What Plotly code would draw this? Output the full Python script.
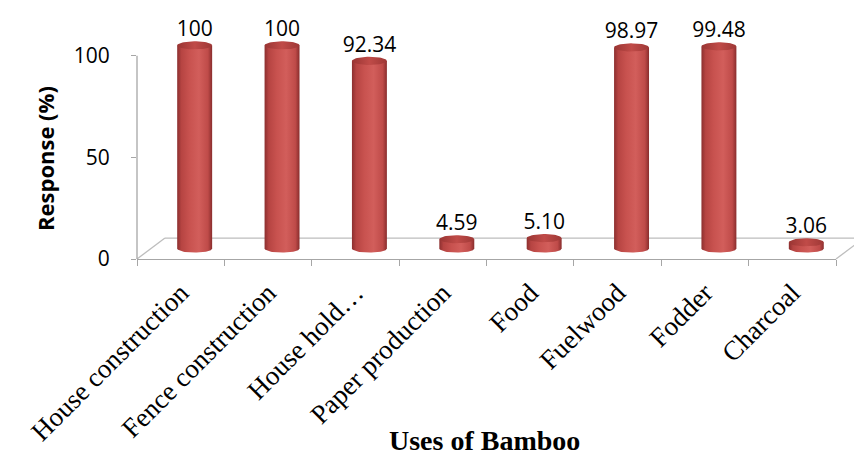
import numpy as np
import plotly.graph_objects as go

# Uses of bamboo and share of respondents (%)
categories = ["House construction", "Fence construction", "House hold\u2026",
              "Paper production", "Food", "Fuelwood", "Fodder", "Charcoal"]
response = [100, 100, 92.34, 4.59, 5.10, 98.97, 99.48, 3.06]
labels = ["100", "100", "92.34", "4.59", "5.10", "98.97", "99.48", "3.06"]
y_ticks = [0, 50, 100]

# axis ranges and pseudo-3D geometry (data units)
XR = [-0.5, 7.5]
YR = [0, 125]
DEPTH_X, DEPTH_Y = 0.32, 10.3      # floor depth offset
RX, RY = 0.2, 2.0                  # cylinder radius / ellipse half height

AXIS_GREY = "#a6a6a6"
FLOOR_GREY = "#bdbdbd"

BODY_SCALE = [[0, "#8c2f2f"], [0.12, "#b64442"], [0.35, "#c8524f"],
              [0.62, "#d25e5b"], [0.88, "#bf4b49"], [1, "#892d2d"]]
TOP_SCALE = [[0, "#9a3533"], [0.5, "#c04b48"], [1, "#9e3836"]]


def px(x):
    return (x - XR[0]) / (XR[1] - XR[0])


def py(y):
    return (y - YR[0]) / (YR[1] - YR[0])


fig = go.Figure()

base = DEPTH_Y / 2
t_arc = np.linspace(0, -np.pi, 40)
t_full = np.linspace(0, 2 * np.pi, 60)

for i, v in enumerate(response):
    cx = i + DEPTH_X / 2
    top = base + v
    # cylinder body: straight sides plus rounded front edge at the base
    bx = [cx - RX, cx + RX, cx + RX] + list(cx + RX * np.cos(t_arc)) + [cx - RX]
    by = [top, top, base] + list(base + RY * np.sin(t_arc)) + [top]
    fig.add_trace(go.Scatter(
        x=bx, y=by, mode="lines", fill="toself", line=dict(width=0),
        fillgradient=dict(type="horizontal", colorscale=BODY_SCALE),
        hoverinfo="skip", showlegend=False))
    # cylinder cap
    fig.add_trace(go.Scatter(
        x=list(cx + RX * np.cos(t_full)), y=list(top + RY * np.sin(t_full)),
        mode="lines", fill="toself", line=dict(width=0),
        fillgradient=dict(type="horizontal", colorscale=TOP_SCALE),
        hoverinfo="skip", showlegend=False))

# value labels above each cylinder
fig.add_trace(go.Scatter(
    x=[i + DEPTH_X / 2 for i in range(len(response))],
    y=[base + v + RY for v in response],
    mode="text", text=labels, textposition="top center",
    textfont=dict(family="Open Sans", size=21, color="black"),
    cliponaxis=False, hoverinfo="skip", showlegend=False))

# floor of the 3D plot area and the value axis line
shapes = [
    dict(type="line", xref="paper", yref="paper",
         x0=px(XR[0] + DEPTH_X), y0=py(DEPTH_Y), x1=px(XR[1] + DEPTH_X) + 0.05, y1=py(DEPTH_Y),
         line=dict(color=FLOOR_GREY, width=1.3), layer="below"),
    dict(type="line", xref="paper", yref="paper",
         x0=px(XR[0]), y0=py(0), x1=px(XR[0] + DEPTH_X), y1=py(DEPTH_Y),
         line=dict(color=FLOOR_GREY, width=1.3), layer="below"),
    dict(type="line", xref="paper", yref="paper",
         x0=px(XR[1]), y0=py(0), x1=px(XR[1] + DEPTH_X), y1=py(DEPTH_Y),
         line=dict(color=FLOOR_GREY, width=1.3), layer="below"),
    dict(type="line", xref="paper", yref="paper",
         x0=px(XR[0]), y0=py(0), x1=px(XR[0]), y1=py(100),
         line=dict(color=AXIS_GREY, width=1.3), layer="below"),
]

fig.update_layout(
    width=854, height=458,
    margin=dict(l=137, r=18, t=5, b=199),
    paper_bgcolor="white", plot_bgcolor="white",
    shapes=shapes,
    xaxis=dict(
        range=XR, tickmode="array", tickvals=list(range(len(categories))),
        ticktext=categories, tickangle=-45, ticks="",
        tickfont=dict(family="Liberation Serif", size=27, color="black"),
        showgrid=False, zeroline=False, showline=True,
        linecolor=AXIS_GREY, linewidth=1.3,
        minor=dict(tickmode="array", tickvals=[k - 0.5 for k in range(len(categories) + 1)],
                   ticks="outside", ticklen=6, tickcolor=AXIS_GREY, tickwidth=1.3,
                   showgrid=False),
        ticklabelstandoff=6,
    ),
    yaxis=dict(
        range=YR, tickmode="array", tickvals=y_ticks,
        ticks="outside", ticklen=5, tickcolor=AXIS_GREY, tickwidth=1.3,
        tickfont=dict(family="Open Sans", size=21, color="black"),
        ticklabelstandoff=17,
        showgrid=False, zeroline=False, showline=False,
    ),
    annotations=[
        dict(text="<b>Uses of Bamboo</b>", xref="paper", yref="paper",
             x=(484 - 137) / 699, y=(259 - 440) / 254, xanchor="center", yanchor="middle",
             showarrow=False, font=dict(family="Liberation Serif", size=28, color="black")),
        dict(text="<b>Response (%)</b>", xref="paper", yref="paper",
             x=(45 - 137) / 699, y=(259 - 158) / 254, xanchor="center", yanchor="middle",
             textangle=-90, showarrow=False,
             font=dict(family="Open Sans", size=22, color="black")),
    ],
)

fig.write_html("out.html")
